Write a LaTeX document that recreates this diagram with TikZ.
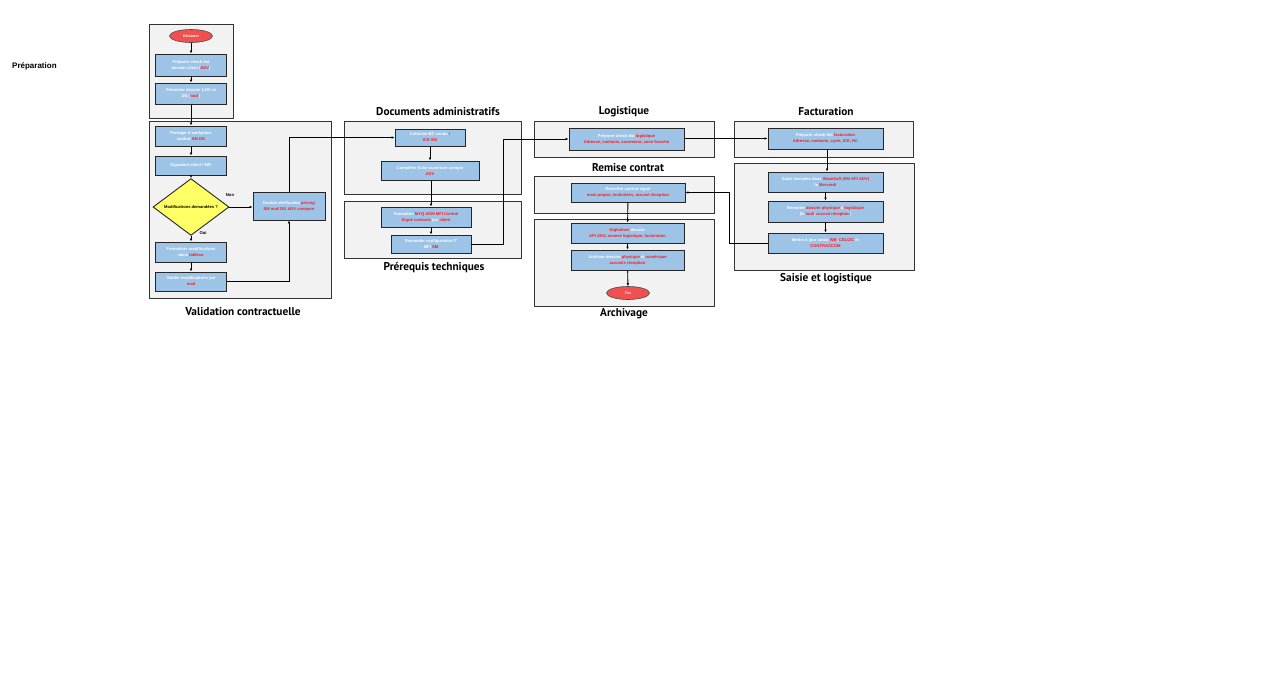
\documentclass[tikz,border=0pt]{standalone}
\usepackage{fontspec}
\setmainfont{Liberation Sans}
\newfontfamily\titlefont{PT Sans}
\usetikzlibrary{shapes.geometric,arrows.meta}
\definecolor{boxblue}{HTML}{9DC3E6}
\definecolor{grpfill}{HTML}{F2F2F2}
\definecolor{redtxt}{HTML}{FF1A1A}
\definecolor{ellred}{HTML}{F05050}
\definecolor{decyel}{HTML}{FFFF66}
\newcommand{\rt}[1]{\textcolor{redtxt}{#1}}
\tikzset{
  grp/.style={draw=black!80, fill=grpfill, line width=0.8pt},
  proc/.style={draw=black!85, fill=boxblue, line width=0.9pt, align=center,
    font=\fontsize{4.1}{6}\selectfont\bfseries, text=white, inner sep=0.5pt,
    minimum width=71pt, minimum height=20pt},
  term/.style={ellipse, draw=black!70, fill=ellred, line width=0.6pt, text=white,
    font=\fontsize{3.6}{4}\selectfont\bfseries, minimum width=43pt, minimum height=13pt, inner sep=0pt},
  dec/.style={diamond, draw=black!85, fill=decyel, line width=0.9pt,
    font=\fontsize{4.1}{5}\selectfont\bfseries, minimum width=76pt, minimum height=48pt, inner sep=0pt},
  ttl/.style={font=\titlefont\bfseries\fontsize{11.3}{12}\selectfont},
  lbl/.style={font=\fontsize{4.2}{5}\selectfont\bfseries},
  arr/.style={-{Latex[length=3pt,width=2.6pt]}, line width=0.9pt, draw=black}
}
\begin{document}
\begin{tikzpicture}[x=1pt,y=-1pt]
\useasboundingbox[fill=white] (0,0) rectangle (1280,678);

% group frames
\draw[grp] (149,24) rectangle (233,118);
\draw[grp] (149,121) rectangle (331,298);
\draw[grp] (344,121) rectangle (521,194);
\draw[grp] (344,201) rectangle (521,258);
\draw[grp] (534,121) rectangle (714,157);
\draw[grp] (534,176) rectangle (714,213);
\draw[grp] (534,219) rectangle (714,306);
\draw[grp] (734,121) rectangle (913,157);
\draw[grp] (734,163) rectangle (914,270);

% titles
\node[font=\fontsize{8}{9}\selectfont\bfseries, anchor=west, inner sep=0pt] (tprep) at (12,66) {Préparation};
\node[ttl] (tval) at (243,312) {Validation contractuelle};
\node[ttl] (tdoc) at (438,112) {Documents administratifs};
\node[ttl] (tpre) at (434,268) {Prérequis techniques};
\node[ttl] (tlog) at (624,112) {Logistique};
\node[ttl] (trem) at (628,168) {Remise contrat};
\node[ttl] (tarc) at (624,314) {Archivage};
\node[ttl] (tfac) at (826,112) {Facturation};
\node[ttl] (tsai) at (826,279) {Saisie et logistique};

% Préparation
\node[term] (start) at (191,36) {Démarrer};
\node[proc, minimum height=22pt] (p1) at (191,65) {Préparer check-list\\dossier client (\rt{ADV})};
\node[proc, minimum height=21pt] (p2) at (191,93.5) {Présenter dossier à DC et\\DG (\rt{Iouli})};

% Validation contractuelle
\node[proc] (v1) at (191,136) {Partager à workplace\\contrat \rt{SM DG}};
\node[proc, minimum height=19pt] (v2) at (191,165.5) {Signature client / MFI};
\node[dec] (d) at (191,207) {Modifications demandées ?};
\node[proc, minimum width=72pt, minimum height=28pt] (dv) at (289,206) {Double vérification \rt{pricing}\\\rt{SM mail DG} \rt{ADV compare}};
\node[proc] (v3) at (191,252) {Formaliser modifications\\dans \rt{tableau}};
\node[proc, minimum height=19pt] (v4) at (191,281.5) {Valider modifications par\\\rt{mail}};
\node[lbl] (lnon) at (230,195) {Non};
\node[lbl] (loui) at (203,233) {Oui};

% Documents administratifs
\node[proc, minimum width=70pt, minimum height=17pt] (c1) at (430,137.5) {Collecter BC vendu \rt{/}\\\rt{ICE} \rt{SM}};
\node[proc, minimum width=98pt, minimum height=19pt] (c2) at (430,170.5) {Compléter fiche ouverture compte\\\rt{ADV}};

% Prérequis techniques
\node[proc, minimum width=90pt, minimum height=20pt] (t1) at (426,217) {Formation \rt{MYQ ADM MFI Central}\\\rt{Signé contacts} par \rt{client}};
\node[proc, minimum width=80pt, minimum height=18pt] (t2) at (431,244) {Demander configuration IT\\MFI \rt{SM}};

% Logistique
\node[proc, minimum width=115pt, minimum height=22pt] (g1) at (626.5,139) {Préparer check-list \rt{logistique}\\\rt{Adresse, contacts, ascenseur, zone franche}};

% Remise contrat
\node[proc, minimum width=114pt, minimum height=19pt] (r1) at (628,192.5) {Remettre contrat signé\\\rt{main propre, technicien, accusé réception}};

% Archivage
\node[proc, minimum width=113pt, minimum height=20pt] (a1) at (627.5,233) {\rt{Digitaliser} dossier\\\rt{API ADV, annexe logistique, facturation}};
\node[proc, minimum width=113pt, minimum height=20pt] (a2) at (627.5,260) {Archiver dossier \rt{physique} et \rt{numérique}\\\rt{accusés réception}};
\node[term] (fin) at (628,293) {Fin};

% Facturation
\node[proc, minimum width=115pt, minimum height=21pt] (f1) at (825.5,138.5) {Préparer check-list \rt{facturation}\\\rt{Adresse, contacts, cycle, ICE, RC}};

% Saisie et logistique
\node[proc, minimum width=115pt, minimum height=20pt] (s1) at (825.5,182) {Saisir données dans \rt{WaveSoft (SM API ADV)}\\le \rt{Mercredi}};
\node[proc, minimum width=115pt, minimum height=21pt] (s2) at (825.5,211.5) {Remettre \rt{dossier physique} à \rt{logistique}\\(le \rt{Iouli}, \rt{accusé réception})};
\node[proc, minimum width=115pt, minimum height=20pt] (s3) at (825.5,243) {Mettre à jour statut \rt{WB}, \rt{CELCIC} et\\\rt{CONTRACCOM}};

% connectors
\draw[arr] (start) -- (p1);
\draw[arr] (p1) -- (p2);
\draw[arr] (p2) -- (v1);
\draw[arr] (v1) -- (v2);
\draw[arr] (v2.south) -- (d.north);
\draw[arr] (d.east) -- (dv.west |- d.east);
\draw[arr] (d.south) -- (v3.north);
\draw[arr] (v3) -- (v4);
\draw[arr] (v4.east) -| (dv.south);
\draw[arr] (dv.north) |- (c1.west);
\draw[arr] (c1) -- (c2);
\draw[arr] (c2.south -| 431,0) -- (t1.north -| 431,0);
\draw[arr] (t1.south -| 431,0) -- (t2.north);
\coordinate (j1) at (503,244);
\draw[arr] (t2.east) -- (j1) |- (g1.west);
\draw[arr] (g1.east |- 0,138.5) -- (f1.west |- 0,138.5);
\draw[arr] (f1.south -| 827,0) -- (s1.north -| 827,0);
\draw[arr] (s1) -- (s2);
\draw[arr] (s2) -- (s3);
\coordinate (j2) at (729,243);
\draw[arr] (s3.west) -- (j2) |- (r1.east);
\draw[arr] (r1) -- (a1);
\draw[arr] (a1) -- (a2);
\draw[arr] (a2) -- (fin);
\end{tikzpicture}
\end{document}
